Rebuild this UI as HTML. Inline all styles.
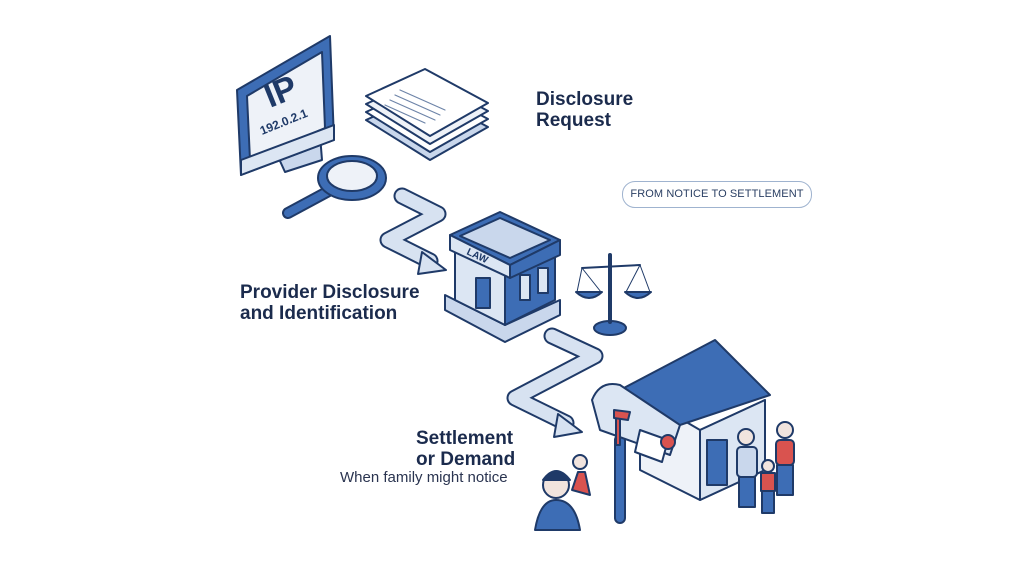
<!DOCTYPE html>
<html><head><meta charset="utf-8"><style>
html,body{margin:0;padding:0;background:#fff}
body{width:1024px;height:572px;overflow:hidden;position:relative;font-family:"Liberation Sans",sans-serif}
.t{position:absolute;color:#1b2b4d;font-weight:bold;font-size:19px;line-height:21px}
.pill{position:absolute;left:622px;top:181px;width:188px;height:25px;border:1px solid #9fb3cf;border-radius:13px;font-size:11px;color:#2a3f63;text-align:center;line-height:25px;letter-spacing:.1px}
</style></head><body>
<svg width="1024" height="572" style="position:absolute;left:0;top:0" stroke-linejoin="round" stroke-linecap="round">
<g stroke="#1f3a68" stroke-width="2">
<polygon points="275,150 320,135 322,160 285,172" fill="#c9d7ec"/>
<polygon points="237,90 330,36 334,140 241,175" fill="#3d6db5"/>
<polygon points="247,96 322,52 325,128 250,160" fill="#eef2f8"/>
<polygon points="241,160 334,125 334,140 241,175" fill="#dce6f3"/>
<line x1="327" y1="192" x2="288" y2="213" stroke-width="12" stroke="#1f3a68"/>
<line x1="327" y1="192" x2="288" y2="213" stroke-width="8" stroke="#3d6db5"/>
<ellipse cx="352" cy="178" rx="34" ry="22" fill="#3d6db5"/>
<ellipse cx="352" cy="176" rx="25" ry="15" fill="#eef2f8"/>
<polygon points="366,120 425,93 488,127 430,160" fill="#c9d7ec"/>
<polygon points="366,112 425,85 488,119 430,152" fill="#fff"/>
<polygon points="366,104 425,77 488,111 430,144" fill="#eef2f8"/>
<polygon points="366,96 425,69 488,103 430,136" fill="#fff"/>
<g stroke-width="1.2" stroke="#6d84a8"><line x1="400" y1="90" x2="445" y2="110"/><line x1="395" y1="95" x2="440" y2="115"/><line x1="390" y1="100" x2="435" y2="120"/><line x1="385" y1="105" x2="425" y2="123"/></g>
</g>
<g fill="none">
<polyline points="402,196 438,214 388,240 430,261" stroke="#1f3a68" stroke-width="17"/>
<polyline points="402,196 438,214 388,240 430,261" stroke="#d7e2f1" stroke-width="13"/>
<polygon points="422,252 446,270 418,274" fill="#d7e2f1" stroke="#1f3a68" stroke-width="2"/>
<polyline points="552,336 595,356 515,398 566,423" stroke="#1f3a68" stroke-width="17"/>
<polyline points="552,336 595,356 515,398 566,423" stroke="#d7e2f1" stroke-width="13"/>
<polygon points="558,414 582,432 554,437" fill="#d7e2f1" stroke="#1f3a68" stroke-width="2"/>
</g>
<g stroke="#1f3a68" stroke-width="2">
<polygon points="445,295 505,325 560,300 560,315 505,342 445,310" fill="#c9d7ec"/>
<polygon points="455,250 505,275 505,325 455,300" fill="#dce6f3"/>
<polygon points="505,275 555,255 555,300 505,325" fill="#3d6db5"/>
<polygon points="450,235 500,212 560,240 510,265" fill="#3d6db5"/>
<polygon points="460,236 500,218 550,240 510,258" fill="#c9d7ec"/>
<polygon points="450,235 510,265 510,278 450,250" fill="#dce6f3"/>
<polygon points="510,265 560,240 560,255 510,278" fill="#3d6db5"/>
<rect x="476" y="278" width="14" height="30" fill="#3d6db5"/>
<rect x="520" y="275" width="10" height="25" fill="#dce6f3"/>
<rect x="538" y="268" width="10" height="25" fill="#dce6f3"/>
<ellipse cx="610" cy="328" rx="16" ry="7" fill="#3d6db5"/>
<line x1="610" y1="255" x2="610" y2="322" stroke-width="4"/>
<line x1="582" y1="268" x2="640" y2="265"/>
<path d="M576 292 Q589 304 602 292 Z" fill="#3d6db5"/>
<path d="M625 292 Q638 304 651 292 Z" fill="#3d6db5"/>
<line x1="582" y1="268" x2="577" y2="292" stroke-width="1"/><line x1="582" y1="268" x2="601" y2="292" stroke-width="1"/>
<line x1="640" y1="265" x2="626" y2="292" stroke-width="1"/><line x1="640" y1="265" x2="650" y2="292" stroke-width="1"/>
<polygon points="640,395 700,430 765,400 765,470 700,500 640,470" fill="#eef2f8"/>
<polygon points="700,430 765,400 765,470 700,500" fill="#dce6f3"/>
<rect x="707" y="440" width="20" height="45" fill="#3d6db5"/>
<polygon points="620,390 715,340 770,395 665,430" fill="#3d6db5"/>
<line x1="620" y1="440" x2="620" y2="518" stroke-width="12"/>
<line x1="620" y1="440" x2="620" y2="518" stroke-width="8" stroke="#3d6db5"/>
<path d="M592,400 Q600,380 620,385 L680,425 L670,455 L600,430 Z" fill="#dce6f3"/>
<polygon points="640,430 668,440 662,462 635,452" fill="#fff"/>
<circle cx="668" cy="442" r="7" fill="#d9534f"/>
<polygon points="616,412 620,412 620,445 616,445" fill="#d9534f"/>
<polygon points="614,410 630,412 628,420 614,418" fill="#d9534f"/>
<circle cx="556" cy="485" r="13" fill="#f1e4de"/>
<path d="M543 480 Q556 462 570 480 Z" fill="#1f3a68"/>
<path d="M535 530 Q540 500 556 500 Q575 500 580 530 Z" fill="#3d6db5"/>
<circle cx="580" cy="462" r="7" fill="#f1e4de"/>
<path d="M572 490 L578 472 L585 472 L590 495 Z" fill="#d9534f"/>
<circle cx="746" cy="437" r="8" fill="#f1e4de"/>
<rect x="737" y="447" width="20" height="30" rx="4" fill="#c9d7ec"/>
<rect x="739" y="477" width="16" height="30" fill="#3d6db5"/>
<circle cx="785" cy="430" r="8" fill="#f1e4de"/>
<rect x="776" y="440" width="18" height="25" rx="4" fill="#d9534f"/>
<rect x="777" y="465" width="16" height="30" fill="#3d6db5"/>
<circle cx="768" cy="466" r="6" fill="#f1e4de"/>
<rect x="761" y="473" width="14" height="18" fill="#d9534f"/>
<rect x="762" y="491" width="12" height="22" fill="#3d6db5"/>
</g>
<g fill="#1f3a68" font-family="Liberation Sans,sans-serif" font-weight="bold">
<text x="270" y="108" font-size="34" transform="rotate(-22 270 108)">IP</text>
<text x="262" y="135" font-size="12" transform="rotate(-22 262 135)">192.0.2.1</text>
<text x="466" y="254" font-size="10" transform="rotate(25 466 254)">LAW</text>
</g>
</svg>
<div class="t" style="left:536px;top:89px">Disclosure<br>Request</div>
<div class="pill">FROM NOTICE TO SETTLEMENT</div>
<div class="t" style="left:240px;top:282px">Provider Disclosure<br>and Identification</div>
<div class="t" style="left:416px;top:428px">Settlement<br>or Demand</div>
<div style="position:absolute;left:340px;top:469px;font-size:15px;color:#2a3450">When family might notice</div>
</body></html>
